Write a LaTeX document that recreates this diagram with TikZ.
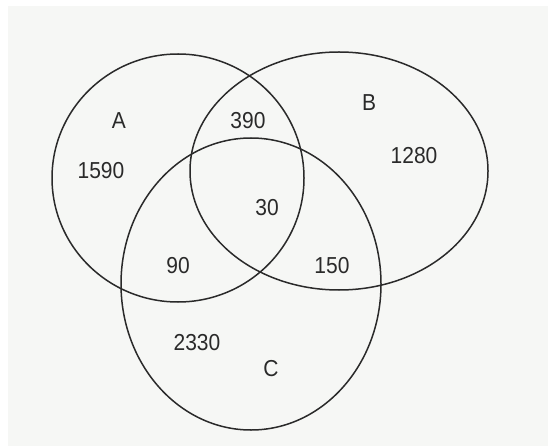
\documentclass[tikz,border=0pt]{standalone}
\usepackage{fontspec}
\setmainfont{Liberation Sans}
\definecolor{paper}{HTML}{F6F7F5}
\definecolor{ink}{HTML}{2A2A2A}
\begin{document}
\begin{tikzpicture}[x=1pt,y=-1pt,
  setline/.style={draw=ink,line width=1.5pt},
  lbl/.style={text=ink,inner sep=0pt,font=\fontsize{21}{23}\selectfont,yscale=1.1}]
\useasboundingbox (0,0) rectangle (548,446);
\fill[white] (0,0) rectangle (548,446);
\fill[paper] (8,6) rectangle (548,446);
\draw[setline] (178,178) ellipse [x radius=126, y radius=124];
\draw[setline] (339,171) ellipse [x radius=149, y radius=119];
\draw[setline] (251,284) ellipse [x radius=130, y radius=146];
\node[lbl] (la) at (119,121) {A};
\node[lbl] (lb) at (369,103) {B};
\node[lbl] (lc) at (271,369) {C};
\node[lbl] (n390) at (248,121) {390};
\node[lbl] (n1590) at (101,171) {1590};
\node[lbl] (n1280) at (414,156) {1280};
\node[lbl] (n30) at (267,208) {30};
\node[lbl] (n90) at (178,266) {90};
\node[lbl] (n150) at (332,266) {150};
\node[lbl] (n2330) at (197,343) {2330};
\end{tikzpicture}
\end{document}
